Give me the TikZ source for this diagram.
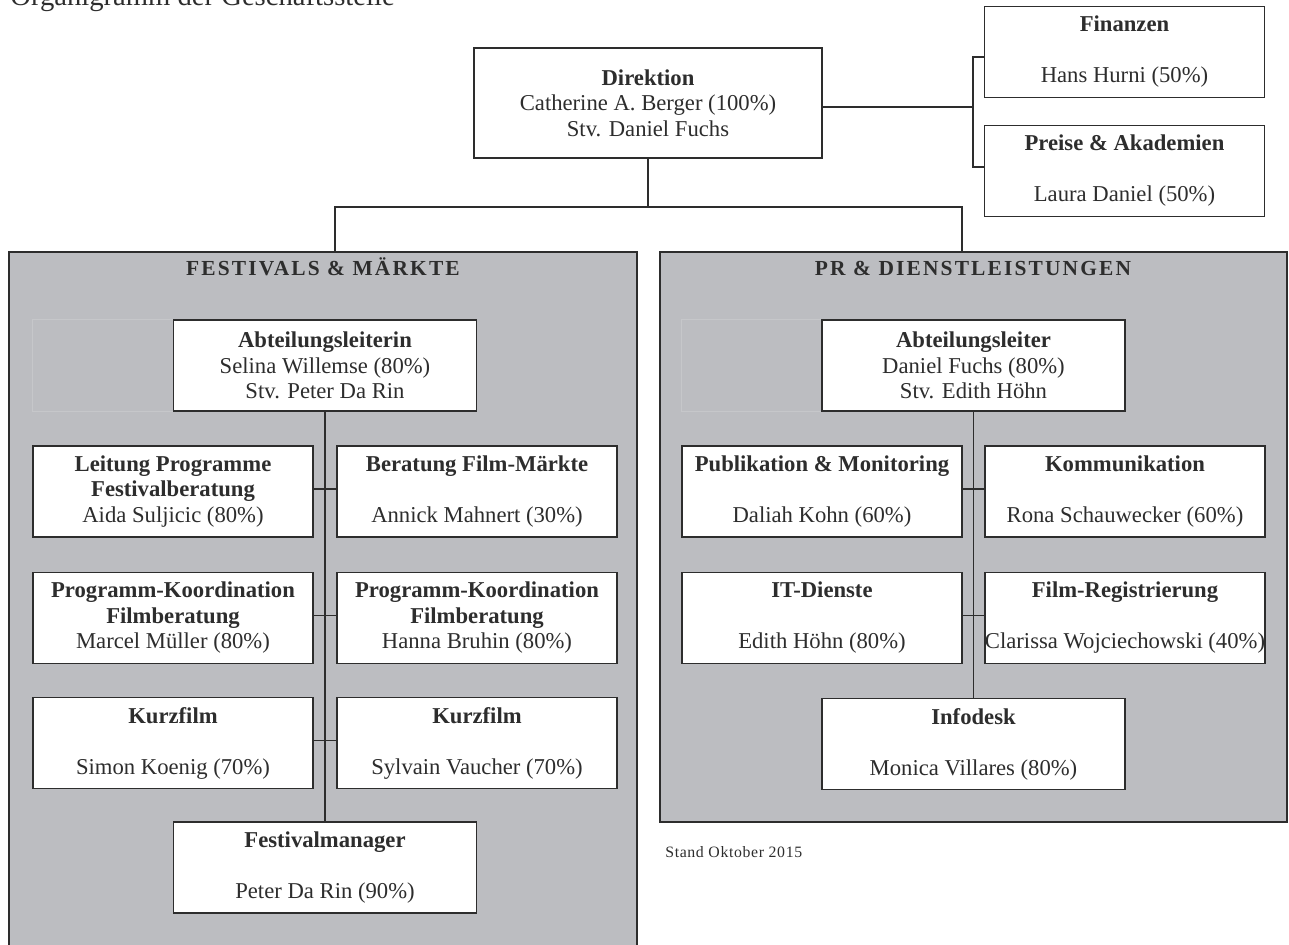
\documentclass[tikz,border=0pt]{standalone}
\usepackage{fontspec}
\setmainfont{Liberation Serif}
\definecolor{panelgray}{RGB}{188,189,193}
\definecolor{ink}{RGB}{45,45,45}
\definecolor{ghost}{RGB}{198,199,202}

\begin{document}
\begin{tikzpicture}[x=0.02cm, y=-0.02cm,
    box/.style={draw=ink, line width=0.8pt, fill=white, text=ink, align=center, inner sep=0pt,
        minimum width=5.6cm, minimum height=1.82cm, font=\fontsize{12.9}{14.5}\selectfont},
    widebox/.style={box, minimum width=6.06cm},
    panel/.style={draw=ink, line width=0.8pt, fill=panelgray},
    head/.style={anchor=base, text=ink, font={\fontsize{12.2}{14}\selectfont\bfseries\addfontfeatures{LetterSpace=10}}},
    link/.style={draw=ink, line width=0.6pt},
    ghostline/.style={draw=ghost, line width=0.5pt}]
    \useasboundingbox (0,0) rectangle (1289,944);

    % Kopf
    \node[anchor=base west, inner sep=0pt, text=ink, font=\fontsize{16.3}{18}\selectfont] (title) at (10,5) {Organigramm der Geschäftsstelle};
    \node[widebox, minimum width=6.96cm, minimum height=2.2cm] (dir) at (648,103) {\textbf{Direktion}\\Catherine A. Berger (100\%)\\Stv. Daniel Fuchs};
    \node[box] (fin) at (1124.5,52) {\textbf{Finanzen}\\[14.5pt]Hans Hurni (50\%)};
    \node[box] (pre) at (1124.5,171) {\textbf{Preise \& Akademien}\\[14.5pt]Laura Daniel (50\%)};
    \coordinate (brk) at (973,107);
    \draw[link] (brk -| dir.east) -- (brk);
    \draw[link] ([yshift=-1mm]fin.west) -| (brk) |- ([yshift=0.8mm]pre.west);

    % Abteilungen
    \draw[panel] (9,252) rectangle (637,960);
    \draw[panel] (660,252) rectangle (1287,822);
    \coordinate (fork) at (648,207);
    \coordinate (fmtop) at (335,252); \coordinate (prtop) at (962,252);
    \draw[link] (dir.south) -- (fork);
    \draw[link] (fmtop) |- (fork) -| (prtop);
    \node[head] (fmhead) at (323,275) {FESTIVALS \& MÄRKTE};
    \node[head] (prhead) at (973,275) {PR \& DIENSTLEISTUNGEN};

    % Festivals & Märkte
    \node[widebox] (al1) at (325,365.5) {\textbf{Abteilungsleiterin}\\Selina Willemse (80\%)\\Stv. Peter Da Rin};
    \draw[ghostline] (al1.north west) -- ++(-140,0) |- (al1.south west);
    \node[box] (fl1) at (173,491.5) {\textbf{Leitung Programme}\\\textbf{Festivalberatung}\\Aida Suljicic (80\%)};
    \node[box] (fr1) at (477,491.5) {\textbf{Beratung Film-Märkte}\\[14.5pt]Annick Mahnert (30\%)};
    \node[box] (fl2) at (173,618) {\textbf{Programm-Koordination}\\\textbf{Filmberatung}\\Marcel Müller (80\%)};
    \node[box] (fr2) at (477,618) {\textbf{Programm-Koordination}\\\textbf{Filmberatung}\\Hanna Bruhin (80\%)};
    \node[box] (fl3) at (173,743) {\textbf{Kurzfilm}\\[14.5pt]Simon Koenig (70\%)};
    \node[box] (fr3) at (477,743) {\textbf{Kurzfilm}\\[14.5pt]Sylvain Vaucher (70\%)};
    \node[widebox] (fmgr) at (325,867.5) {\textbf{Festivalmanager}\\[14.5pt]Peter Da Rin (90\%)};
    \draw[link] (al1.south) -- (fmgr.north);
    \foreach \i in {1,2,3} \draw[link] ([yshift=0.5mm]fl\i.east) -- ([yshift=0.5mm]fr\i.west);

    % PR & Dienstleistungen
    \node[widebox] (al2) at (973.5,365.5) {\textbf{Abteilungsleiter}\\Daniel Fuchs (80\%)\\Stv. Edith Höhn};
    \draw[ghostline] (al2.north west) -- ++(-140,0) |- (al2.south west);
    \node[box] (pl1) at (822,491.5) {\textbf{Publikation \& Monitoring}\\[14.5pt]Daliah Kohn (60\%)};
    \node[box] (pr1) at (1125,491.5) {\textbf{Kommunikation}\\[14.5pt]Rona Schauwecker (60\%)};
    \node[box] (pl2) at (822,618) {\textbf{IT-Dienste}\\[14.5pt]Edith Höhn (80\%)};
    \node[box] (pr2) at (1125,618) {\textbf{Film-Registrierung}\\[14.5pt]Clarissa Wojciechowski (40\%)};
    \node[widebox] (info) at (973.5,744) {\textbf{Infodesk}\\[14.5pt]Monica Villares (80\%)};
    \draw[link] (al2.south) -- (info.north);
    \foreach \i in {1,2} \draw[link] ([yshift=0.5mm]pl\i.east) -- ([yshift=0.5mm]pr\i.west);

    \node[anchor=west, inner sep=0pt, text=ink, font={\fontsize{9}{11}\selectfont\addfontfeatures{LetterSpace=4}}] (stand) at (665,852) {Stand Oktober 2015};
\end{tikzpicture}
\end{document}
